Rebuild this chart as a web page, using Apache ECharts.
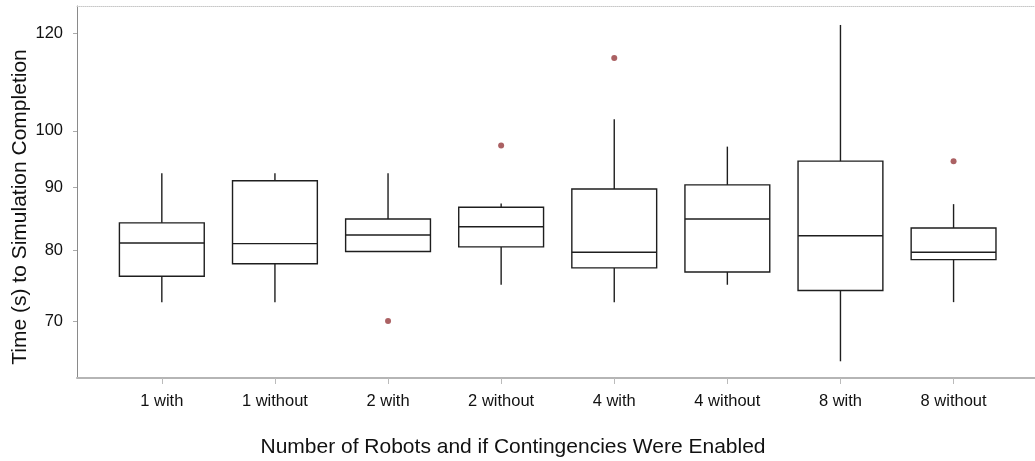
<!DOCTYPE html>
<html>
<head>
<meta charset="utf-8">
<style>
  html, body { margin: 0; padding: 0; background: #fff; }
  #chart { width: 1035px; height: 461px; }
</style>
<script src="https://cdn.jsdelivr.net/npm/echarts@6/dist/echarts.min.js"></script>
</head>
<body>
<div id="chart"></div>
<script>
// Completion time per configuration (seconds)
const categories = ['1 with', '1 without', '2 with', '2 without', '4 with', '4 without', '8 with', '8 without'];
const whiskerLow = [72.6, 72.6, 79.8, 75.0, 72.6, 75.0, 65.0, 72.6];
const q1         = [76.2, 78.0, 79.8, 80.5, 77.4, 76.8, 74.2, 78.6];
const median     = [81.1, 81.0, 82.3, 83.6, 79.7, 84.8, 82.2, 79.7];
const q3         = [84.2, 91.1, 84.8, 86.7, 89.7, 90.4, 94.5, 83.4];
const whiskerHigh= [92.4, 92.4, 92.4, 87.3, 102.2, 97.1, 121.9, 87.2];
// outliers as [category index, value]
const outliers = [[2, 70.1], [3, 97.3], [4, 114.6], [7, 94.5]];
const yTicks = [70, 80, 90, 100, 120];

const boxData = categories.map((c, i) => [i + 1, whiskerLow[i], q1[i], median[i], q3[i], whiskerHigh[i]]);
const outlierData = outliers.map(o => [o[0] + 1, o[1]]);

const lineColor = '#1e1e1e';
const chart = echarts.init(document.getElementById('chart'));

// Box without whisker caps: box, median bar and two plain whisker lines
function renderBox(params, api) {
  const x = api.value(0);
  const lo = api.coord([x, api.value(1)]);
  const b1 = api.coord([x, api.value(2)]);
  const md = api.coord([x, api.value(3)]);
  const b3 = api.coord([x, api.value(4)]);
  const hi = api.coord([x, api.value(5)]);
  const half = api.size([0.75, 0])[0] / 2;
  const cx = lo[0];
  const style = { stroke: lineColor, lineWidth: 1.4, fill: null };
  return {
    type: 'group',
    children: [
      { type: 'rect', shape: { x: cx - half, y: b3[1], width: half * 2, height: b1[1] - b3[1] },
        style: { stroke: lineColor, lineWidth: 1.4, fill: '#fff' } },
      { type: 'line', shape: { x1: cx - half, y1: md[1], x2: cx + half, y2: md[1] }, style: style },
      { type: 'line', shape: { x1: cx, y1: b3[1], x2: cx, y2: hi[1] }, style: style },
      { type: 'line', shape: { x1: cx, y1: b1[1], x2: cx, y2: lo[1] }, style: style }
    ]
  };
}

const labelFont = { fontFamily: 'Liberation Sans, Arial, sans-serif', fontSize: 16.5, color: '#111' };

chart.setOption({
  animation: false,
  backgroundColor: '#fff',
  grid: { left: 77, right: 0, top: 6, bottom: 83 },
  xAxis: [{
    type: 'value',
    min: 0.25, max: 8.72,
    axisLine: { show: true, lineStyle: { color: '#b5b5b5', width: 2 } },
    axisTick: { show: true, length: 6, lineStyle: { color: '#bbb' }, customValues: [1, 2, 3, 4, 5, 6, 7, 8] },
    axisLabel: Object.assign({
      margin: 15,
      customValues: [1, 2, 3, 4, 5, 6, 7, 8],
      formatter: v => categories[Math.round(v) - 1] || ''
    }, labelFont),
    splitLine: { show: false }
  }, {
    type: 'value',
    position: 'top',
    min: 0.25, max: 8.72,
    axisLine: { show: true, onZero: false, lineStyle: { color: '#c8c8c8', width: 1, type: 'dotted' } },
    axisTick: { show: false },
    axisLabel: { show: false },
    splitLine: { show: false }
  }],
  yAxis: {
    type: 'log',
    logBase: 10,
    min: 63, max: 126.3,
    axisLine: { show: true, lineStyle: { color: '#8a8a8a', width: 1 } },
    axisTick: { show: true, length: 4, lineStyle: { color: '#aaa' }, customValues: yTicks },
    axisLabel: Object.assign({ margin: 14, customValues: yTicks }, labelFont),
    splitLine: { show: false },
    minorSplitLine: { show: false }
  },
  graphic: [
    { type: 'text', style: {
        text: 'Number of Robots and if Contingencies Were Enabled',
        x: 513, y: 447, align: 'center', verticalAlign: 'middle',
        font: '21px "Liberation Sans", Arial, sans-serif', fill: '#111' } },
    { type: 'text', rotation: Math.PI / 2, x: 20, y: 207, style: {
        text: 'Time (s) to Simulation Completion',
        x: 0, y: 0, align: 'center', verticalAlign: 'middle',
        font: '21px "Liberation Sans", Arial, sans-serif', fill: '#111' } }
  ],
  series: [{
    type: 'custom',
    renderItem: renderBox,
    data: boxData,
    encode: { x: 0, y: [1, 2, 3, 4, 5] }
  }, {
    type: 'scatter',
    data: outlierData,
    symbolSize: 6,
    itemStyle: { color: '#963a3c' }
  }]
});
</script>
</body>
</html>
